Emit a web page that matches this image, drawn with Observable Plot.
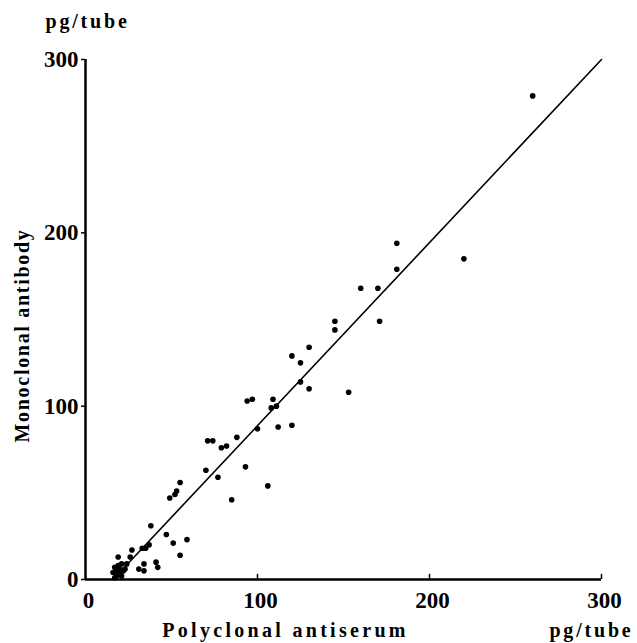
<!DOCTYPE html>
<html>
<head>
<meta charset="utf-8">
<script src="https://cdn.jsdelivr.net/npm/d3@7"></script>
<script src="https://cdn.jsdelivr.net/npm/@observablehq/plot@0.6"></script>
<style>
  html, body { margin: 0; padding: 0; background: #fff; }
  #chart svg { display: block; }
</style>
</head>
<body>
<div id="chart"></div>
<script>
// Polyclonal antiserum (x) vs Monoclonal antibody (y), pg/tube
const polyclonal = [
  16, 17, 18, 18, 19, 20, 20, 21, 22, 23, 24, 19, 26, 27, 17, 21,
  31, 34, 34, 33, 35, 37, 38, 41, 42, 47, 51, 55, 59,
  49, 52, 53, 55, 70, 77, 85, 93, 106,
  71, 74, 79, 82, 88, 94, 97, 100, 109, 108, 111, 112, 120,
  120, 125, 125, 130, 130, 145, 145, 153,
  160, 170, 171, 181, 181, 220, 260
];
const monoclonal = [
  4, 7, 2, 5, 8, 3, 6, 9, 5, 6, 9, 13, 13, 17, 1, 2,
  6, 5, 9, 18, 18, 20, 31, 10, 7, 26, 21, 14, 23,
  47, 49, 51, 56, 63, 59, 46, 65, 54,
  80, 80, 76, 77, 82, 103, 104, 87, 104, 99, 100, 88, 89,
  129, 125, 114, 110, 134, 149, 144, 108,
  168, 168, 149, 194, 179, 185, 279
];
// fitted regression line endpoints (data units)
const fitX = [16, 300];
const fitY = [0, 300];
const xTicks = [0, 100, 200, 300];
const yTicks = [0, 100, 200, 300];

const points = polyclonal.map((x, i) => ({x, y: monoclonal[i]}));
const fit = fitX.map((x, i) => ({x, y: fitY[i]}));

const font = "'Liberation Serif', 'DejaVu Serif', serif";

const chart = Plot.plot({
  width: 637,
  height: 643,
  marginLeft: 85,
  marginRight: 36,
  marginTop: 59,
  marginBottom: 64,
  style: { fontFamily: font, background: "#fff", color: "#000" },
  x: { type: "linear", domain: [0, 300], axis: null, label: null },
  y: { type: "linear", domain: [0, 300], axis: null, label: null },
  marks: [
    Plot.ruleX([0], { y1: 0, y2: 300, stroke: "#000", strokeWidth: 2.5 }),
    Plot.ruleY([0], { x1: 0, x2: 300, stroke: "#000", strokeWidth: 2.5 }),
    Plot.ruleX(xTicks.slice(1), { x: d => d, y1: 0, y2: 3, stroke: "#000", strokeWidth: 1.5 }),
    Plot.axisX({ ticks: xTicks, tickSize: 0, tickPadding: 12, fontSize: 23, fontWeight: "bold", anchor: "bottom", label: null, dx: 3 }),
    Plot.axisY({ ticks: yTicks, tickSize: 4, tickPadding: 3, fontSize: 23, fontWeight: "bold", anchor: "left", label: null, strokeWidth: 1.5 }),
    Plot.line(fit, { x: "x", y: "y", stroke: "#000", strokeWidth: 1.6 }),
    Plot.dot(points, { x: "x", y: "y", r: 2.8, fill: "#000", stroke: "none" }),
    Plot.text(["pg/tube"], { frameAnchor: "top-left", dx: -40, dy: -32, fontSize: 20, fontWeight: "bold", textAnchor: "start", lineAnchor: "bottom" }),
    Plot.text(["pg/tube"], { frameAnchor: "bottom-right", dx: 32, dy: 57, fontSize: 20, fontWeight: "bold", textAnchor: "end", lineAnchor: "bottom" }),
    Plot.text(["Polyclonal antiserum"], { frameAnchor: "bottom", dx: -58, dy: 57, fontSize: 20, fontWeight: "bold", textAnchor: "middle", lineAnchor: "bottom" }),
    Plot.text(["Monoclonal antibody"], { frameAnchor: "left", dx: -63, dy: 16, rotate: -90, fontSize: 20, fontWeight: "bold", textAnchor: "middle", lineAnchor: "middle" })
  ]
});

// letter spacing of the titles (the scanned original uses a wide typeface)
const spacing = { "pg/tube": "2.8px", "Polyclonal antiserum": "3.3px", "Monoclonal antibody": "1.7px" };
d3.select(chart).selectAll("text").each(function() {
  const s = spacing[this.textContent];
  if (s) this.style.letterSpacing = s;
});

document.getElementById("chart").appendChild(chart);
</script>
</body>
</html>
